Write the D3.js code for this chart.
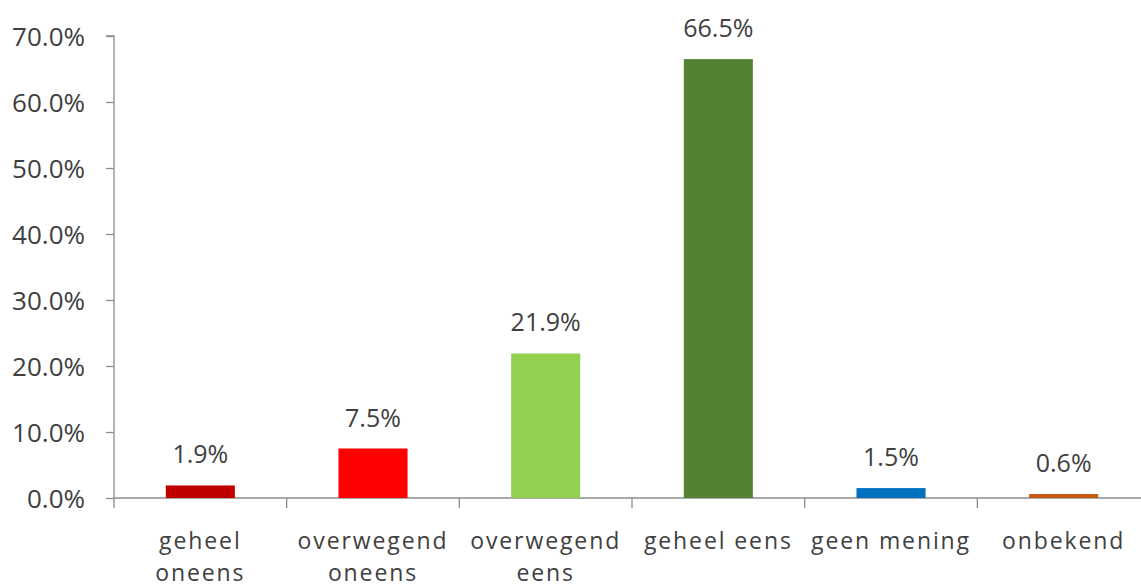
<!DOCTYPE html>
<html>
<head>
<meta charset="utf-8">
<script src="https://cdn.jsdelivr.net/npm/d3@7"></script>
<style>
  body { margin: 0; background: #fff; }
  text { font-family: "Open Sans", sans-serif; fill: #404040; }
</style>
</head>
<body>
<svg id="chart"></svg>
<script>
// data
const categories = [["geheel", "oneens"], ["overwegend", "oneens"], ["overwegend", "eens"], ["geheel eens"], ["geen mening"], ["onbekend"]];
const values = [1.9, 7.5, 21.9, 66.5, 1.5, 0.6];
const colors = ["#C00000", "#FF0000", "#92D050", "#548235", "#0070C0", "#C55A11"];
const yTicks = [0, 10, 20, 30, 40, 50, 60, 70];

const width = 1141, height = 587;
const svg = d3.select("#chart").attr("width", width).attr("height", height);

const x = d3.scaleBand().domain(d3.range(categories.length)).range([114, 1150]).paddingInner(0.6).paddingOuter(0.3);
const y = d3.scaleLinear().domain([0, 70]).range([498, 36]);
const bandStep = x.step();
const left = 114;

// y axis
const yAxis = svg.append("g").attr("transform", `translate(${left},0)`)
  .call(d3.axisLeft(y).tickValues(yTicks).tickSize(8).tickPadding(21).tickFormat(d => d.toFixed(1) + "%"));
yAxis.selectAll("path, line").attr("stroke", "#8c8c8c").attr("stroke-width", 1.3);
yAxis.select(".domain").attr("d", `M-8,${y(70)}H0V${y(0)}`);
yAxis.selectAll("text").style("font-size", "26px").attr("dy", "0.35em");

// x axis line + ticks between categories
const xg = svg.append("g");
xg.append("line").attr("x1", left).attr("x2", width).attr("y1", y(0)).attr("y2", y(0))
  .attr("stroke", "#8c8c8c").attr("stroke-width", 1.3);
xg.selectAll(".sep").data(d3.range(categories.length + 1)).join("line")
  .attr("x1", i => left + i * bandStep).attr("x2", i => left + i * bandStep)
  .attr("y1", y(0)).attr("y2", y(0) + 10)
  .attr("stroke", "#8c8c8c").attr("stroke-width", 1.3);

// bars
svg.selectAll(".bar").data(values).join("rect")
  .attr("x", (d, i) => x(i)).attr("width", x.bandwidth())
  .attr("y", d => y(d)).attr("height", d => y(0) - y(d))
  .attr("fill", (d, i) => colors[i]);

// value labels
svg.selectAll(".val").data(values).join("text")
  .attr("x", (d, i) => x(i) + x.bandwidth() / 2).attr("y", d => y(d) - 22)
  .attr("text-anchor", "middle").style("font-size", "25px")
  .text(d => d.toFixed(1) + "%");

// category labels
const cat = svg.selectAll(".cat").data(categories).join("text")
  .attr("text-anchor", "middle").style("font-size", "23px").style("letter-spacing", "1.9px")
  .attr("transform", (d, i) => `translate(${x(i) + x.bandwidth() / 2},549)`);
cat.selectAll("tspan").data(d => d).join("tspan")
  .attr("x", 0).attr("y", (d, i) => i * 32).text(d => d);
</script>
</body>
</html>
